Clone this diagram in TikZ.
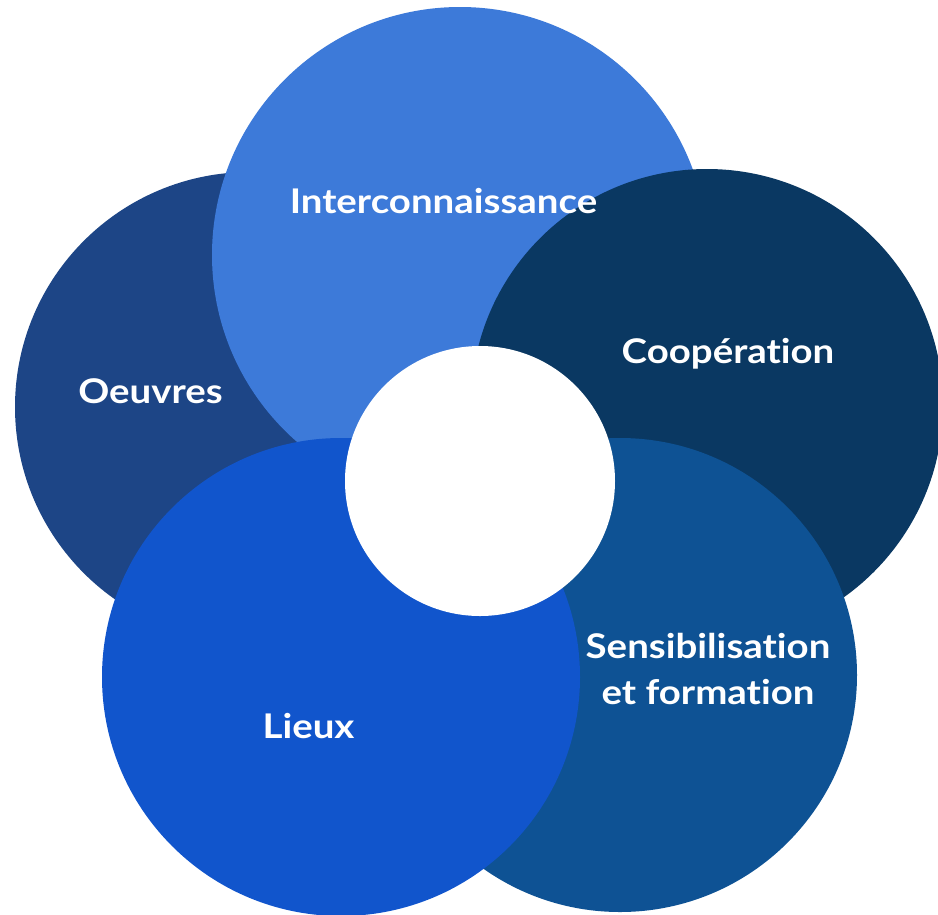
\documentclass[tikz,border=0pt]{standalone}
\usepackage{fontspec}
\setmainfont{Lato}[UprightFont=* Bold, FakeStretch=1.13, Ligatures={NoCommon}]
\definecolor{oeuvres}{HTML}{1D4586}
\definecolor{inter}{HTML}{3D7AD9}
\definecolor{coop}{HTML}{0A3862}
\definecolor{sensib}{HTML}{0E5294}
\definecolor{lieux}{HTML}{1155CC}
\tikzset{
  petal/.style={circle, inner sep=0pt, outer sep=0pt, draw=none, minimum size=#1},
  lbl/.style={text=white, font=\fontsize{34}{46}\selectfont, anchor=base, align=center, inner sep=0pt}
}
\begin{document}
\begin{tikzpicture}[x=1pt,y=-1pt]
\useasboundingbox (0,0) rectangle (938,914);
\clip (0,0) rectangle (938,914);
\node[petal=470pt, fill=oeuvres] (oeuvres) at (250,407) {};
\node[petal=496pt, fill=inter] (inter) at (460,255) {};
\node[petal=472pt, fill=coop] (coop) at (707,405) {};
\node[petal=474pt, fill=sensib] (sensib) at (620,675) {};
\node[petal=478pt, fill=lieux] (lieux) at (341,677) {};
\node[petal=270pt, fill=white] (centre) at (480,481) {};
\node[lbl] (t-oeuvres) at (150.5,403) {Oeuvres};
\node[lbl] (t-inter) at (443.5,213) {Interconnaissance};
\node[lbl] (t-coop) at (728,363) {Coopération};
\node[lbl] (t-lieux) at (308.5,738) {Lieux};
\node[lbl] (t-sensib1) at (708,658) {Sensibilisation};
\node[lbl] (t-sensib2) at (708,704) {et formation};
\end{tikzpicture}
\end{document}
